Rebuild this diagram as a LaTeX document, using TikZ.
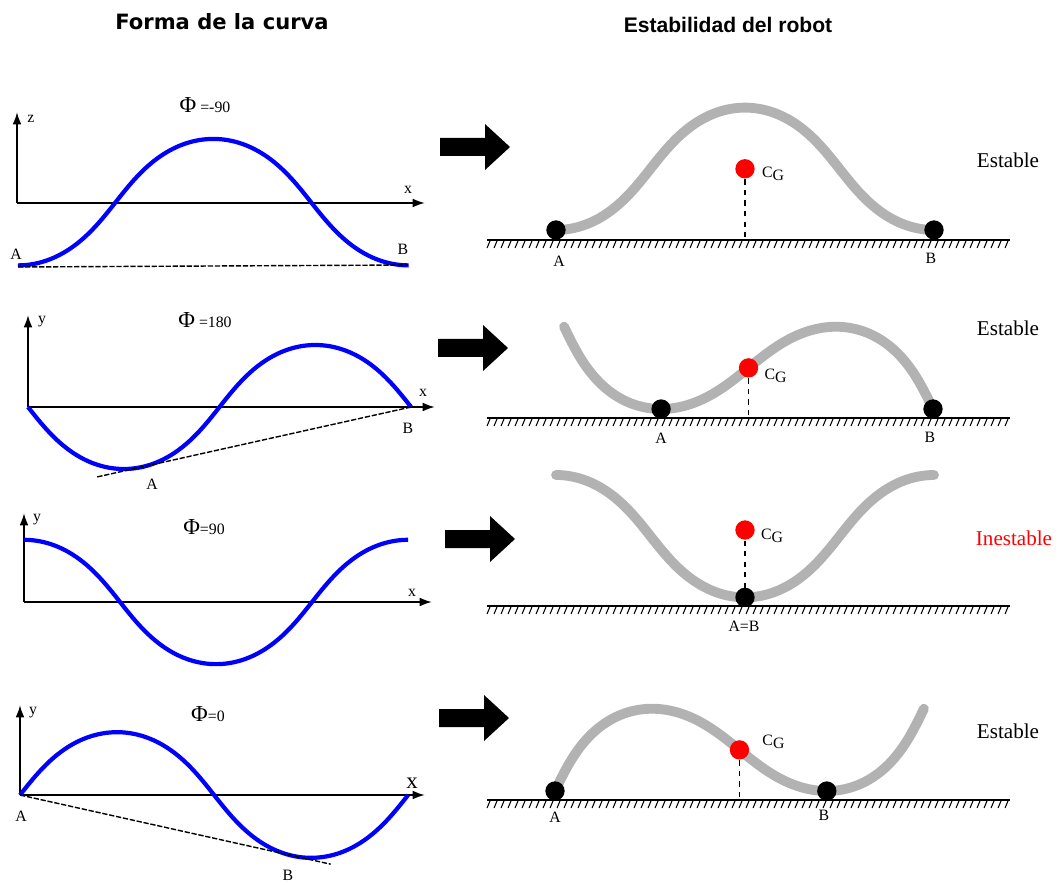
\documentclass[tikz,border=0pt]{standalone}
\usepackage{fontspec}
\setmainfont{Liberation Serif}
\newfontfamily\titlefont{DejaVu Sans}
\newfontfamily\headfont{Liberation Sans}
\usetikzlibrary{arrows.meta,positioning,calc}
\definecolor{ropegray}{RGB}{178,178,178}
\tikzset{
  >=Latex,
  axis/.style = {draw, line width=1.1pt, -{Latex[length=7pt,width=5pt]}},
  curve/.style = {draw=blue, line width=2.4pt},
  rope/.style = {draw=ropegray, line width=5.6pt, line cap=round},
  tangent/.style = {draw, line width=0.8pt, dash pattern=on 3pt off 1pt},
  plumb/.style = {draw, dashed, line width=0.9pt},
  dot/.style = {circle, fill=black, inner sep=0pt, minimum size=11pt},
  cgdot/.style = {circle, fill=red, inner sep=0pt, minimum size=11pt},
  lbl/.style = {font=\fontsize{9}{10}\selectfont, inner sep=1pt},
  phase/.style = {font=\fontsize{9}{10}\selectfont, inner sep=1pt},
  title/.style = {font=\titlefont\bfseries\fontsize{12}{14}\selectfont},
  verdict/.style = {font=\fontsize{12}{14}\selectfont},
  % serpenoid: tangent angle 0.9 sin(t+#2), scale #1
  serp/.style n args={2}{insert path={plot[domain=0:360, samples=120, variable=\t]
    ({#1*(0.8075*rad(\t)+0.0946*(sin(2*(\t+#2))-sin(2*#2)))},
     {-#1*(0.8118*(cos(#2)-cos(\t+#2))+0.0096*(cos(3*#2)-cos(3*(\t+#2))))})}}
}
\newcommand{\fatarrow}[1]{\fill #1 ++(0,-9) -- ++(45,0) -- ++(0,-14) -- ++(25,23) -- ++(-25,23) -- ++(0,-14) -- ++(-45,0) -- cycle;}
\newcommand{\ground}[1]{%
  \draw[line width=1.3pt] (487,#1) -- (1010,#1);
  \foreach \h in {0,...,74} \draw[line width=0.6pt] ({490+7*\h},{#1+1}) -- ++(-3,7);}
\newcommand{\Phig}{{\fontsize{13}{14}\selectfont Φ}}
\newcommand{\CG}{C\raisebox{-0.45ex}{G}}

\begin{document}
\begin{tikzpicture}[x=0.02cm, y=-0.02cm]
\useasboundingbox (0,0) rectangle (1059,885);

% titles
\node[title] (t1) at (222,22) {Forma de la curva};
\node[title, font=\headfont\bfseries\fontsize{12}{14}\selectfont] (t2) at (728,25) {Estabilidad del robot};

% Phi = -90
\begin{scope}[shift={(17,203)}]
\draw[axis] (0,0) -- (0,-91);
\draw[axis] (0,0) -- (408,0);
\draw[curve, shift={(1,62.4)}, serp={77}{0}];
\draw[tangent] (1,64) -- (391,62);
\node[lbl] (z1) at (14,-84) {z};
\node[lbl] (x1) at (391,-13) {x};
\node[lbl] (a1) at (-1,51) {A};
\node[lbl] (b1) at (386,46) {B};
\node[phase] (ph1) at (188,-98) {\Phig\ =-90};
\end{scope}

% Phi = 180
\begin{scope}[shift={(28,407)}]
\draw[axis] (0,0) -- (0,-92);
\draw[axis] (0,0) -- (407,0);
\draw[curve, serp={75.5}{270}];
\coordinate (tb2) at (383.1,0);
\coordinate (ta2) at (114.2,59.9);
\draw[tangent] (tb2) -- ($(tb2)!1.17!(ta2)$);
\node[lbl] (y2) at (14,-85) {y};
\node[lbl] (x2) at (395,-14) {x};
\node[lbl] (a2) at (124,77) {A};
\node[lbl] (b2) at (380,21) {B};
\node[phase] (ph2) at (177,-87) {\Phig\ =180};
\end{scope}

% Phi = 90
\begin{scope}[shift={(24,602)}]
\draw[axis] (0,0) -- (0,-89);
\draw[axis] (0,0) -- (408,0);
\draw[curve, shift={(0,-62.2)}, serp={75.7}{180}];
\node[lbl] (y3) at (13,-82) {y};
\node[lbl] (x3) at (388,-9) {x};
\node[phase] (ph3) at (180,-75) {\Phig=90};
\end{scope}

% Phi = 0
\begin{scope}[shift={(20,795)}]
\draw[axis] (0,0) -- (0,-90);
\draw[axis] (0,0) -- (405,0);
\draw[curve, serp={76.5}{90}];
\coordinate (ta4) at (0,0);
\coordinate (tb4) at (272.5,60.7);
\draw[tangent] (ta4) -- ($(ta4)!1.14!(tb4)$);
\node[lbl] (y4) at (13,-82) {y};
\node[font=\fontsize{13}{14}\selectfont, inner sep=1pt] (x4) at (392,-12) {x};
\node[lbl] (a4) at (1,21) {A};
\node[lbl] (b4) at (268,80) {B};
\node[phase] (ph4) at (188,-81) {\Phig=0};
\end{scope}

% arrows
\fatarrow{(440,147)}
\fatarrow{(438,348)}
\fatarrow{(445,539)}
\fatarrow{(439,718)}

% robot 1
\ground{240}
\coordinate (g1) at (487,240);
\begin{scope}[shift={(556,230)}]
\draw[rope, serp={74.5}{0}];
\coordinate (ra1) at (0,0);
\coordinate (rb1) at (378,0);
\coordinate (cg1) at (189,-61.2);
\end{scope}
\node[dot] (da1) at (ra1) {};
\node[dot] (db1) at (rb1) {};
\draw[plumb] (cg1) -- (cg1 |- g1);
\node[cgdot] (c1) at (cg1) {};
\node[lbl] (la1) at ($(ra1)+(3,31)$) {A};
\node[lbl] (lb1) at ($(rb1)+(-3,28)$) {B};
\node[lbl] (lc1) at ($(cg1)+(28,5)$) {\CG};
\node[verdict] (v1) at (1008,160) {Estable};

% robot 2
\ground{418}
\coordinate (g2) at (487,418);
\begin{scope}[shift={(933,409)}, rotate=-12.57]
\draw[rope, shift={(-378,0)}, serp={74.5}{270}];
\coordinate (ra2) at (-265.4,59.2);
\coordinate (rb2) at (0,0);
\coordinate (cg2) at (-189,0);
\end{scope}
\node[dot] (da2) at (ra2) {};
\node[dot] (db2) at (rb2) {};
\draw[plumb] (cg2) -- (cg2 |- g2);
\node[cgdot] (c2) at (cg2) {};
\node[lbl] (la2) at ($(ra2)+(0,29)$) {A};
\node[lbl] (lb2) at ($(rb2)+(-3,28)$) {B};
\node[lbl] (lc2) at ($(cg2)+(27,8)$) {\CG};
\node[verdict] (v2) at (1008,328) {Estable};

% robot 3
\ground{606}
\coordinate (g3) at (487,606);
\begin{scope}[shift={(556,475)}]
\draw[rope, serp={74.5}{180}];
\coordinate (ra3) at (189,122.4);
\coordinate (cg3) at (189,55);
\end{scope}
\draw[plumb] (cg3) -- (ra3);
\node[dot] (da3) at (ra3) {};
\node[cgdot] (c3) at (cg3) {};
\node[lbl] (la3) at ($(ra3)+(-1,29)$) {A=B};
\node[lbl] (lc3) at ($(cg3)+(27,6)$) {\CG};
\node[verdict, text=red] (v3) at (1014,538) {Inestable};

% robot 4
\ground{800}
\coordinate (g4) at (487,800);
\begin{scope}[shift={(555,791)}, rotate=12.57]
\draw[rope, serp={74.5}{90}];
\coordinate (ra4) at (0,0);
\coordinate (rb4) at (265.3,59.2);
\coordinate (cg4) at (189,0);
\end{scope}
\node[dot] (da4) at (ra4) {};
\node[dot] (db4) at (rb4) {};
\draw[plumb] (cg4) -- (cg4 |- g4);
\node[cgdot] (c4) at (cg4) {};
\node[lbl] (la4) at ($(ra4)+(0,26)$) {A};
\node[lbl] (lb4) at ($(rb4)+(-3,24)$) {B};
\node[lbl] (lc4) at ($(cg4)+(34,-8)$) {\CG};
\node[verdict] (v4) at (1008,731) {Estable};
\end{tikzpicture}
\end{document}
